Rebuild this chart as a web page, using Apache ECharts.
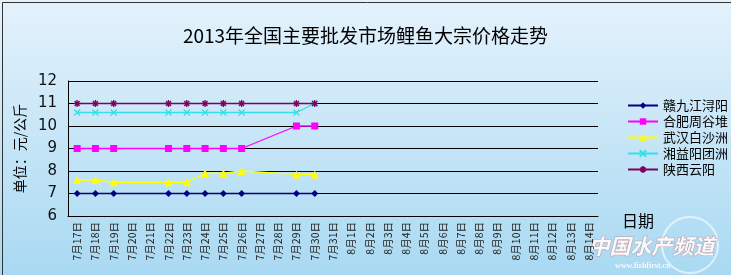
<!DOCTYPE html>
<html><head><meta charset="utf-8">
<script src="https://cdn.jsdelivr.net/npm/echarts@6/dist/echarts.min.js"></script>
<style>html,body{margin:0;padding:0;}#c{width:731px;height:275px;}</style>
</head><body><div id="c"></div>
<script>
var categories = ['7月17日','7月18日','7月19日','7月20日','7月21日','7月22日','7月23日','7月24日','7月25日','7月26日','7月27日','7月28日','7月29日','7月30日','7月31日',
  '8月1日','8月2日','8月3日','8月4日','8月5日','8月6日','8月7日','8月8日','8月9日','8月10日','8月11日','8月12日','8月13日','8月14日'];
var seriesNames = ['赣九江浔阳','合肥周谷堆','武汉白沙洲','湘益阳团洲','陕西云阳'];
var jiujiang = [7,7,7,null,null,7,7,7,7,7,null,null,7,7];
var hefei    = [9,9,9,null,null,9,9,9,9,9,null,null,10,10];
var wuhan    = [7.6,7.6,7.5,null,null,7.5,7.5,7.9,7.9,8.0,null,null,7.85,7.85];
var yiyang   = [10.6,10.6,10.6,null,null,10.6,10.6,10.6,10.6,10.6,null,null,10.6,11];
var shaanxi  = [11,11,11,null,null,11,11,11,11,11,null,null,11,11];
var yTicks = [6,7,8,9,10,11,12];

var chart = echarts.init(document.getElementById('c'));
var font = '"Noto Sans CJK SC", "DejaVu Sans", sans-serif';
function mk(name, data, color, symbol, size, stroke) {
  return {
    name: name, type: 'line', data: data, connectNulls: true,
    symbol: symbol, symbolSize: size, animation: false,
    lineStyle: {color: color, width: 1.3},
    itemStyle: stroke ? {color: color, borderColor: color, borderWidth: 1.3} : {color: color},
    emphasis: {disabled: true}
  };
}
var xPath = 'path://M0,0L10,10M10,0L0,10';
var starPath = 'path://M0,5L10,5M5,0L5,10M1.5,1.5L8.5,8.5M8.5,1.5L1.5,8.5';
chart.setOption({
  backgroundColor: {type:'linear', x:0, y:0, x2:0, y2:1, colorStops:[{offset:0,color:'#e4f2fc'},{offset:1,color:'#a9d9f2'}]},
  animation: false,
  textStyle: {fontFamily: font},
  title: {text: '2013年全国主要批发市场鲤鱼大宗价格走势', left: 'center', top: 21,
    textStyle: {fontFamily: font, fontSize: 19, fontWeight: 'normal', color: '#000'}},
  grid: {left: 68, right: 133, top: 81, bottom: 59},
  legend: {orient: 'vertical', left: 622, top: 94, itemGap: 3, itemWidth: 30, itemHeight: 8,
    data: seriesNames, textStyle: {fontFamily: font, fontSize: 13, color: '#000'}},
  xAxis: {type: 'category', data: categories, boundaryGap: true,
    axisLine: {lineStyle: {color: '#000', width: 1}},
    axisTick: {inside: true, length: 3, lineStyle: {color: '#000'}, alignWithLabel: false},
    axisLabel: {rotate: 90, interval: 0, fontSize: 10.5, color: '#222', fontFamily: font, margin: 6}},
  yAxis: {type: 'value', min: yTicks[0], max: yTicks[yTicks.length-1], interval: 1,
    name: '单位：元/公斤', nameLocation: 'middle', nameGap: 38, nameRotate: 90,
    nameTextStyle: {fontFamily: font, fontSize: 14, color: '#000'},
    axisLine: {show: true, lineStyle: {color: '#000'}},
    axisTick: {show: true, inside: true, length: 3, lineStyle: {color: '#000'}},
    axisLabel: {fontSize: 15, color: '#111', margin: 11, fontFamily: '"DejaVu Sans", sans-serif'},
    splitLine: {lineStyle: {color: '#000', width: 1}}},
  graphic: [
    {type: 'rect', left: 0, top: 0, shape: {width: 730, height: 274}, style: {fill: 'none', stroke: '#333', lineWidth: 1}, silent: true},
    {type: 'text', left: 622, top: 213, style: {text: '日期', font: '16px ' + font, fill: '#000'}},
    {type: 'circle', shape: {cx: 690, cy: 245, r: 28}, style: {fill: 'none', stroke: 'rgba(255,255,255,0.6)', lineWidth: 2}, silent: true},
    {type: 'text', left: 588, top: 235, style: {text: '中国水产频道', font: 'italic bold 21px ' + font, fill: 'rgba(255,255,255,0.9)', stroke: 'rgba(200,90,90,0.5)', lineWidth: 1}},
    {type: 'text', left: 615, top: 262, style: {text: 'www.fishfirst.cn', font: 'bold 8px serif', fill: 'rgba(255,255,255,0.85)'}}
  ],
  series: [
    mk(seriesNames[0], jiujiang, '#000080', 'diamond', 7),
    mk(seriesNames[1], hefei, '#ff00ff', 'rect', 7),
    mk(seriesNames[2], wuhan, '#ffff00', 'triangle', 8),
    mk(seriesNames[3], yiyang, '#33e0e8', xPath, 6, true),
    mk(seriesNames[4], shaanxi, '#800060', starPath, 7, true)
  ]
});
</script></body></html>
